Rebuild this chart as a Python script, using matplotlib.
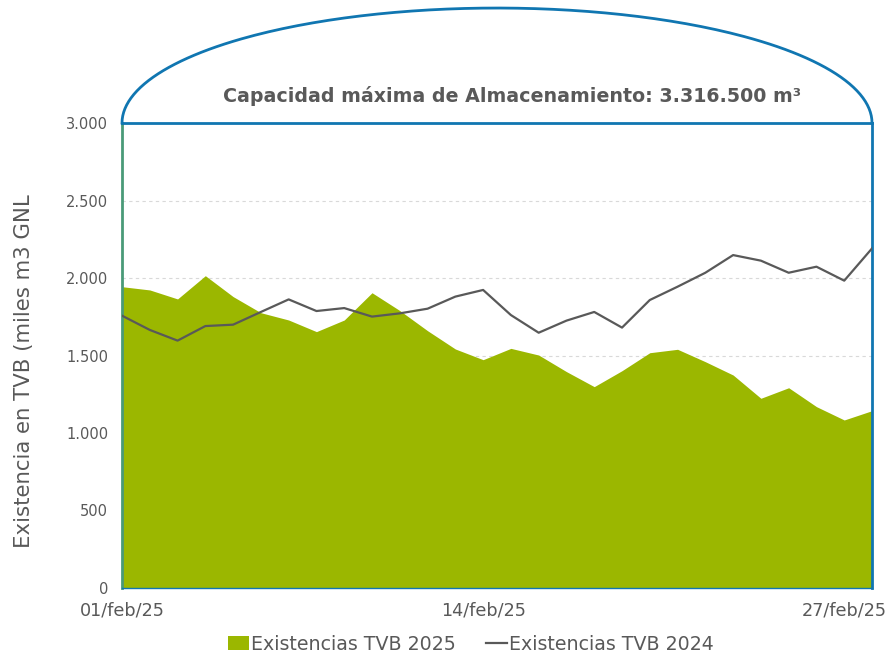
import numpy as np
import matplotlib.pyplot as plt
from matplotlib.patches import Patch
from matplotlib.lines import Line2D
from matplotlib.ticker import FuncFormatter

plt.rcParams['font.family'] = ['DejaVu Sans']

# Existencias diarias, febrero (miles m3 GNL)
dias = list(range(1, 29))
tvb_2025 = [1944, 1923, 1865, 2015, 1880, 1776, 1729, 1654, 1729, 1905,
            1790, 1660, 1542, 1473, 1546, 1503, 1396, 1299, 1402, 1518,
            1540, 1460, 1374, 1224, 1292, 1170, 1084, 1144]
tvb_2024 = [1757, 1665, 1596, 1690, 1699, 1781, 1862, 1787, 1806, 1751,
            1772, 1802, 1880, 1923, 1761, 1647, 1725, 1781, 1680, 1858,
            1944, 2034, 2148, 2112, 2034, 2073, 1983, 2191]
tick_dias = [1, 14, 27]
tick_labels = ['01/feb/25', '14/feb/25', '27/feb/25']
capacidad = 3000

verde = '#9bb700'
gris = '#595959'
azul = '#1076b1'

fig = plt.figure(figsize=(8.88, 6.52), dpi=100)
ax = fig.add_axes([0.1374, 0.0982, 0.8446, 0.7131])

x = np.arange(len(dias))
ax.fill_between(x, 0, tvb_2025, color=verde, linewidth=0, zorder=2)
ax.plot(x, tvb_2024, color=gris, linewidth=1.6, zorder=3)

ax.set_xlim(0, len(dias) - 1)
ax.set_ylim(0, capacidad)
ax.set_yticks(np.arange(0, 3001, 500))
ax.yaxis.set_major_formatter(FuncFormatter(lambda v, p: f'{int(v):,}'.replace(',', '.')))
ax.set_xticks([dias.index(d) for d in tick_dias])
ax.set_xticklabels(tick_labels)
ax.tick_params(length=0, labelcolor=gris)
ax.tick_params(axis='x', pad=10, labelsize=12.7)
ax.tick_params(axis='y', pad=10, labelsize=10.5)
ax.grid(axis='y', color='#d9d9d9', linestyle=(0, (3, 3)), linewidth=0.8, zorder=0)
ax.set_axisbelow(True)

for s in ['top', 'right', 'bottom']:
    ax.spines[s].set_color(azul)
ax.spines['top'].set_linewidth(2)
ax.spines['right'].set_linewidth(2)
ax.spines['bottom'].set_linewidth(1)
ax.spines['left'].set_color('#4a9a78')
ax.spines['left'].set_linewidth(2)

# cúpula del tanque
t = np.linspace(0, np.pi, 200)
cx = (len(dias) - 1) / 2
ax.plot(cx + cx * np.cos(t), capacidad + 742 * np.sin(t), color=azul,
        linewidth=2, clip_on=False, zorder=4)
ax.text(cx + 0.55, capacidad + 175, 'Capacidad máxima de Almacenamiento: 3.316.500 m³',
        ha='center', va='center', fontsize=13.7, fontweight='bold', color=gris)

ax.set_ylabel('Existencia en TVB (miles m3 GNL', fontsize=15.3, color=gris)
ax.yaxis.set_label_coords(-0.117, 0.467)

handles = [Patch(facecolor=verde, edgecolor='none'),
           Line2D([0], [0], color=gris, linewidth=1.6)]
fig.legend(handles, ['Existencias TVB 2025', 'Existencias TVB 2024'],
           loc='center', bbox_to_anchor=(0.53, 0.012), ncol=2, frameon=False,
           fontsize=13.7, handlelength=1.1, handletextpad=0.1, columnspacing=1.6,
           labelcolor=gris)

fig.savefig('out.png', dpi=100)
